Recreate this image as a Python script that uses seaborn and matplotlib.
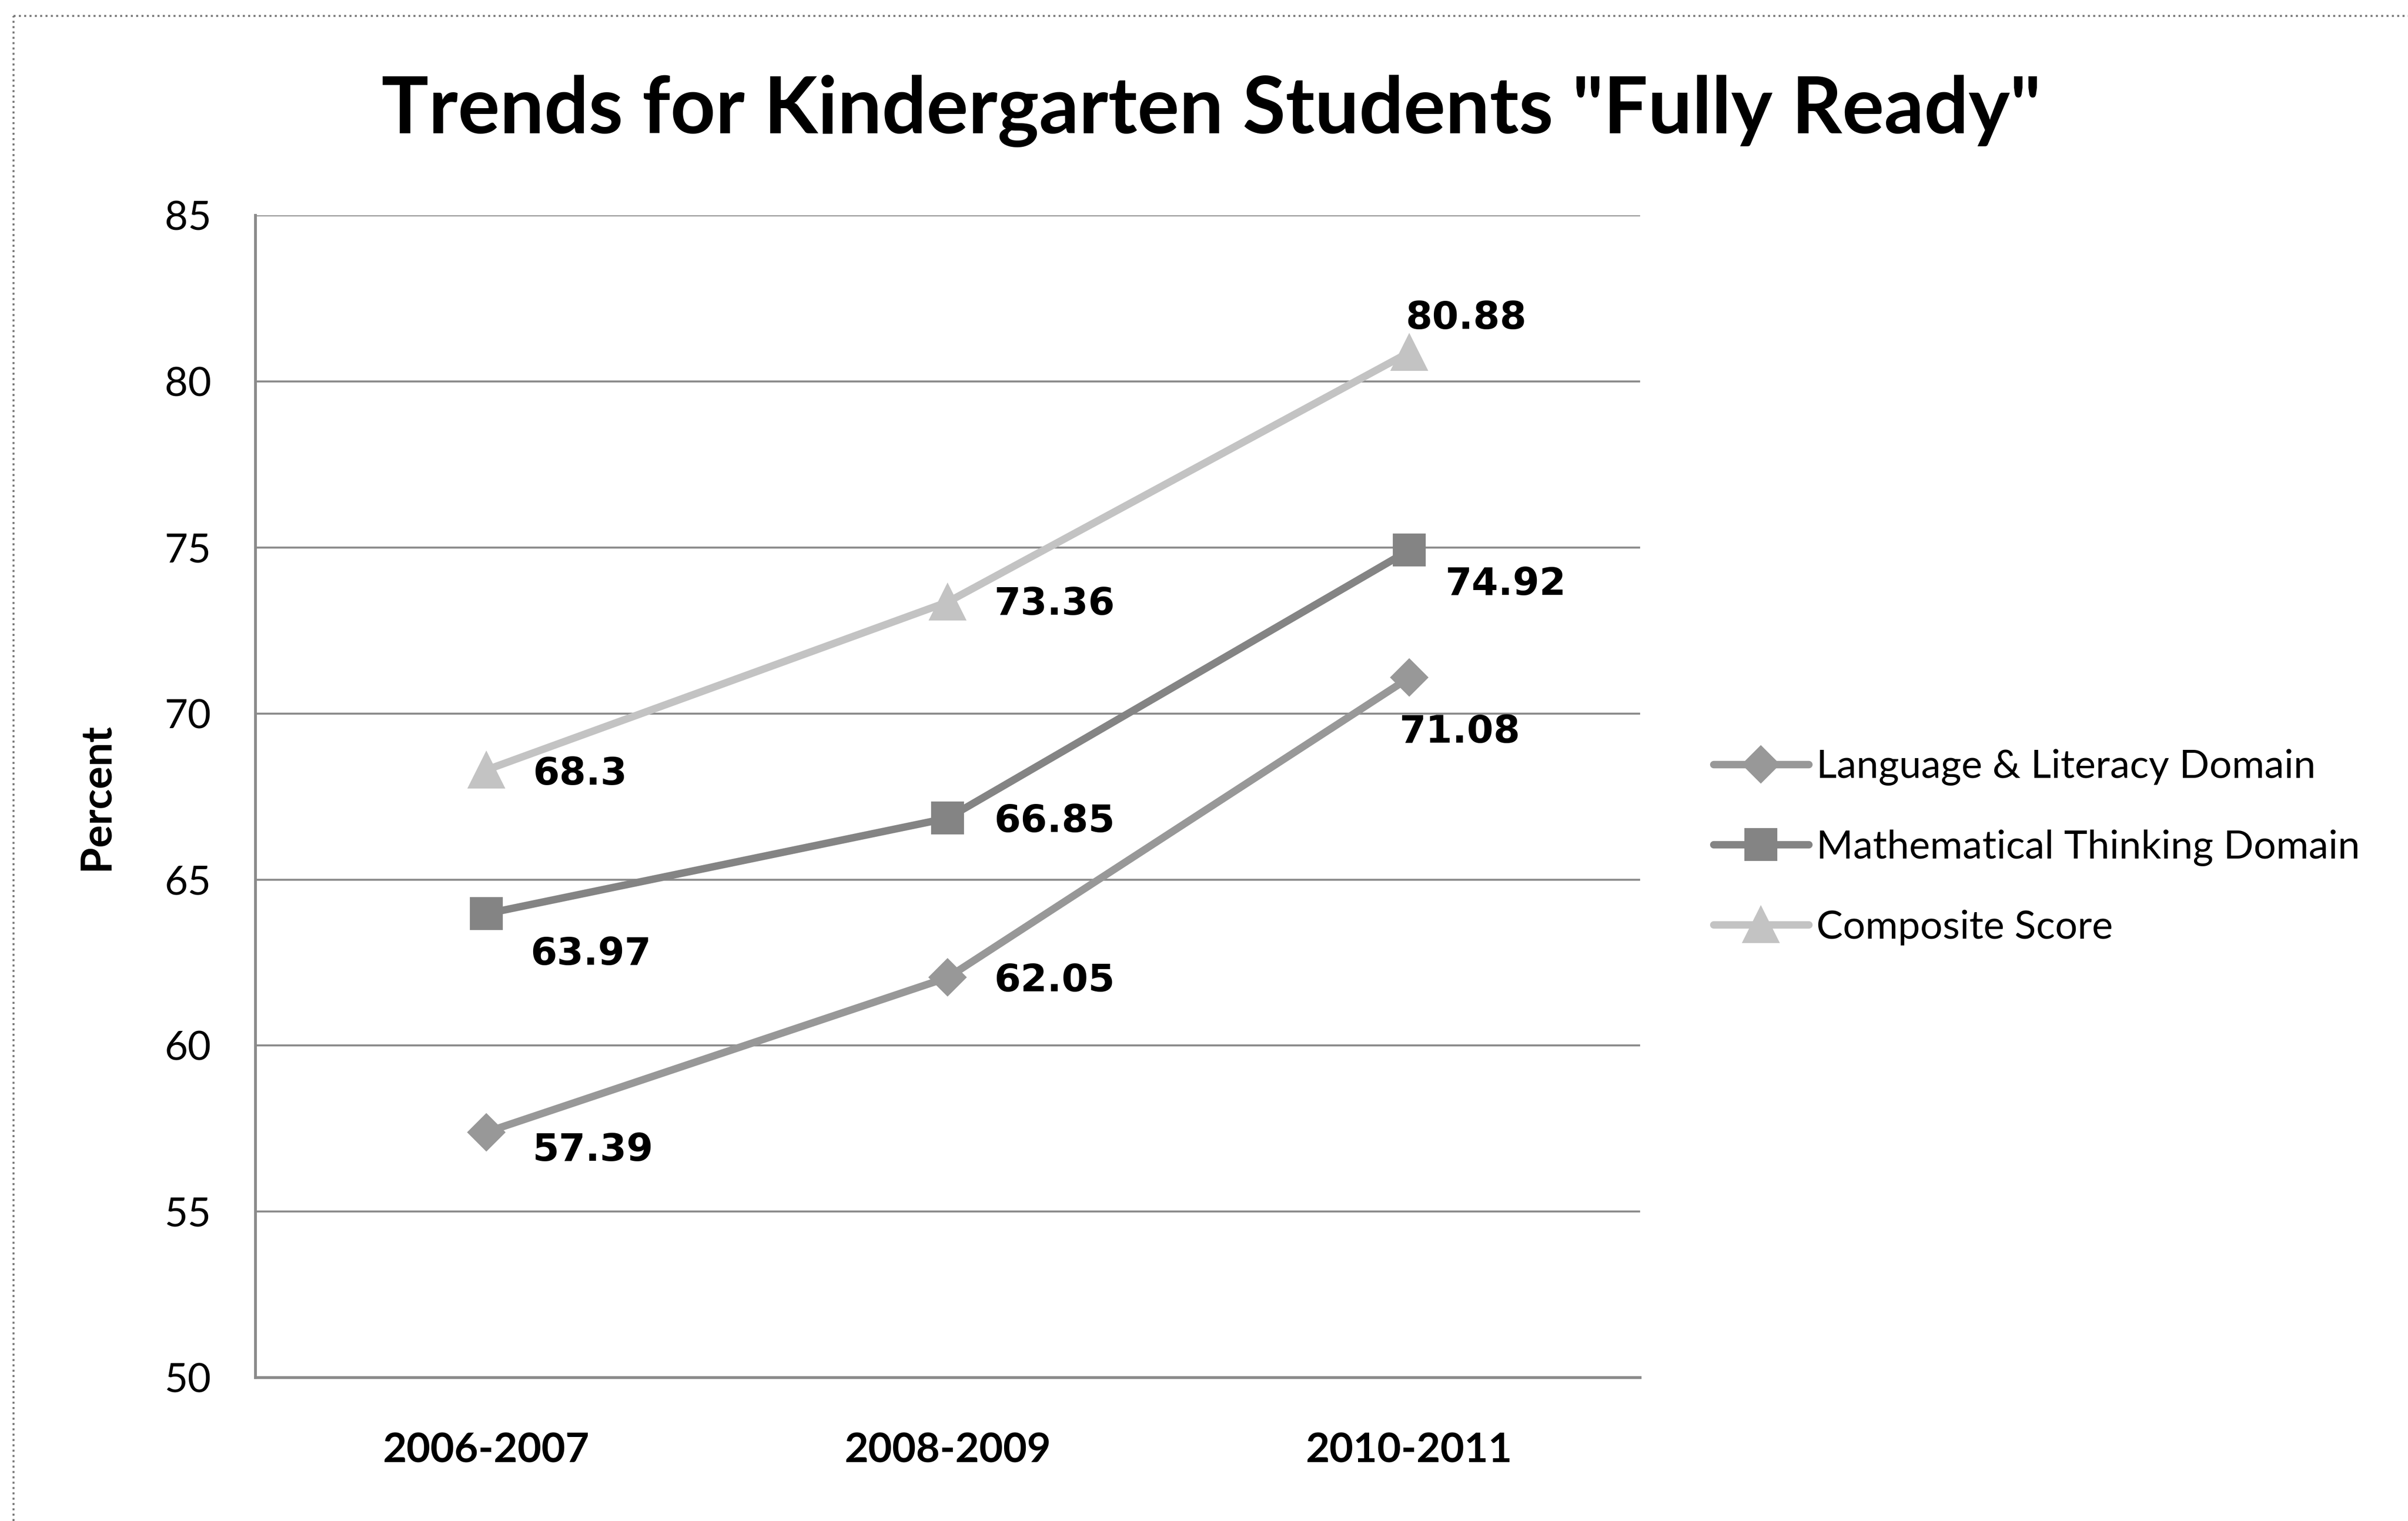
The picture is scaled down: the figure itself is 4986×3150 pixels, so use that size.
import matplotlib
matplotlib.use('Agg')
import matplotlib.pyplot as plt
import seaborn as sns
import pandas as pd
from matplotlib.lines import Line2D

# ---- data ----
years = ['2006-2007', '2008-2009', '2010-2011']
language = [57.39, 62.05, 71.08]
math_thinking = [63.97, 66.85, 74.92]
composite = [68.3, 73.36, 80.88]
series_names = ['Language & Literacy Domain', 'Mathematical Thinking Domain', 'Composite Score']
y_ticks = [50, 55, 60, 65, 70, 75, 80, 85]
title = 'Trends for Kindergarten Students "Fully Ready"'
y_label = 'Percent'

# ---- style ----
colors = ['#989898', '#848484', '#c3c3c3']
markers = ['D', 's', '^']
msizes = [12.5, 15.5, 17.5]
# label offsets (points) per series per point
label_offsets = [
    [(23, -9), (23, -1.5), (-5, -27)],
    [(22, -20), (23, -1.5), (18, -17)],
    [(23, -2), (23, -1), (-2, 17)],
]

sns.set_theme(style='white')
plt.rcParams['font.family'] = ['Lato', 'DejaVu Sans']
plt.rcParams['text.color'] = 'black'
plt.rcParams['xtick.color'] = 'black'
plt.rcParams['ytick.color'] = 'black'
plt.rcParams['axes.labelcolor'] = 'black'

fig = plt.figure(figsize=(4986 / 300, 3150 / 300), dpi=300)
ax = fig.add_axes([0.1061, 0.0943, 0.575, 0.764])

all_series = [language, math_thinking, composite]
for name, vals, c, m, ms in zip(series_names, all_series, colors, markers, msizes):
    df = pd.DataFrame({'pos': list(range(len(years))), 'value': vals})
    sns.lineplot(data=df, x='pos', y='value', ax=ax, color=c, marker=m,
                 markersize=ms, markeredgecolor=c, markeredgewidth=1.0,
                 linewidth=3.7, label=name, zorder=3)

# data labels
for vals, offs in zip(all_series, label_offsets):
    for i, (v, off) in enumerate(zip(vals, offs)):
        ax.annotate(f'{v:g}', xy=(i, v), xytext=off, textcoords='offset points',
                    ha='left', va='center', fontsize=19, fontweight='bold',
                    family='DejaVu Sans', color='black', zorder=5)

ax.set_xlim(-0.5, len(years) - 0.5)
ax.set_ylim(50, 85)
ax.set_xticks(range(len(years)))
ax.set_xticklabels(years, fontweight='bold', fontsize=20.5)
ax.set_yticks(y_ticks)
ax.set_yticklabels([str(t) for t in y_ticks], fontsize=20)
ax.tick_params(axis='y', length=0, pad=22)
ax.tick_params(axis='x', length=0, pad=27)
ax.set_xlabel('')
ax.set_ylabel(y_label, fontsize=21, fontweight='bold')
ax.yaxis.set_label_coords(-0.101, 0.5)

ax.yaxis.grid(True, color='#8c8c8c', linewidth=1.0)
ax.xaxis.grid(False)
ax.set_axisbelow(True)
for s in ['top', 'right']:
    ax.spines[s].set_visible(False)
for s in ['left', 'bottom']:
    ax.spines[s].set_color('#8a8a8a')
    ax.spines[s].set_linewidth(1.4)

handles, labels = ax.get_legend_handles_labels()
ax.get_legend().remove()
fig.legend(handles, labels, loc='center left', bbox_to_anchor=(0.7115, 0.443),
           frameon=False, fontsize=19.7, handlelength=2.4, handletextpad=0.2,
           labelspacing=1.1, borderpad=0, borderaxespad=0)

fig.text(0.503, 0.927, title, ha='center', va='center', fontsize=39, fontweight='bold')

# outer chart-area border (only top and left edges fall inside the image)
fig.add_artist(Line2D([28 / 4986, 1.0], [1 - 33 / 3150, 1 - 33 / 3150],
                      transform=fig.transFigure, color='#7a7a7a', linewidth=1.0, linestyle=':'))
fig.add_artist(Line2D([28 / 4986, 28 / 4986], [0.0, 1 - 33 / 3150],
                      transform=fig.transFigure, color='#7a7a7a', linewidth=1.0, linestyle=':'))

fig.savefig('out.png', dpi=300)
